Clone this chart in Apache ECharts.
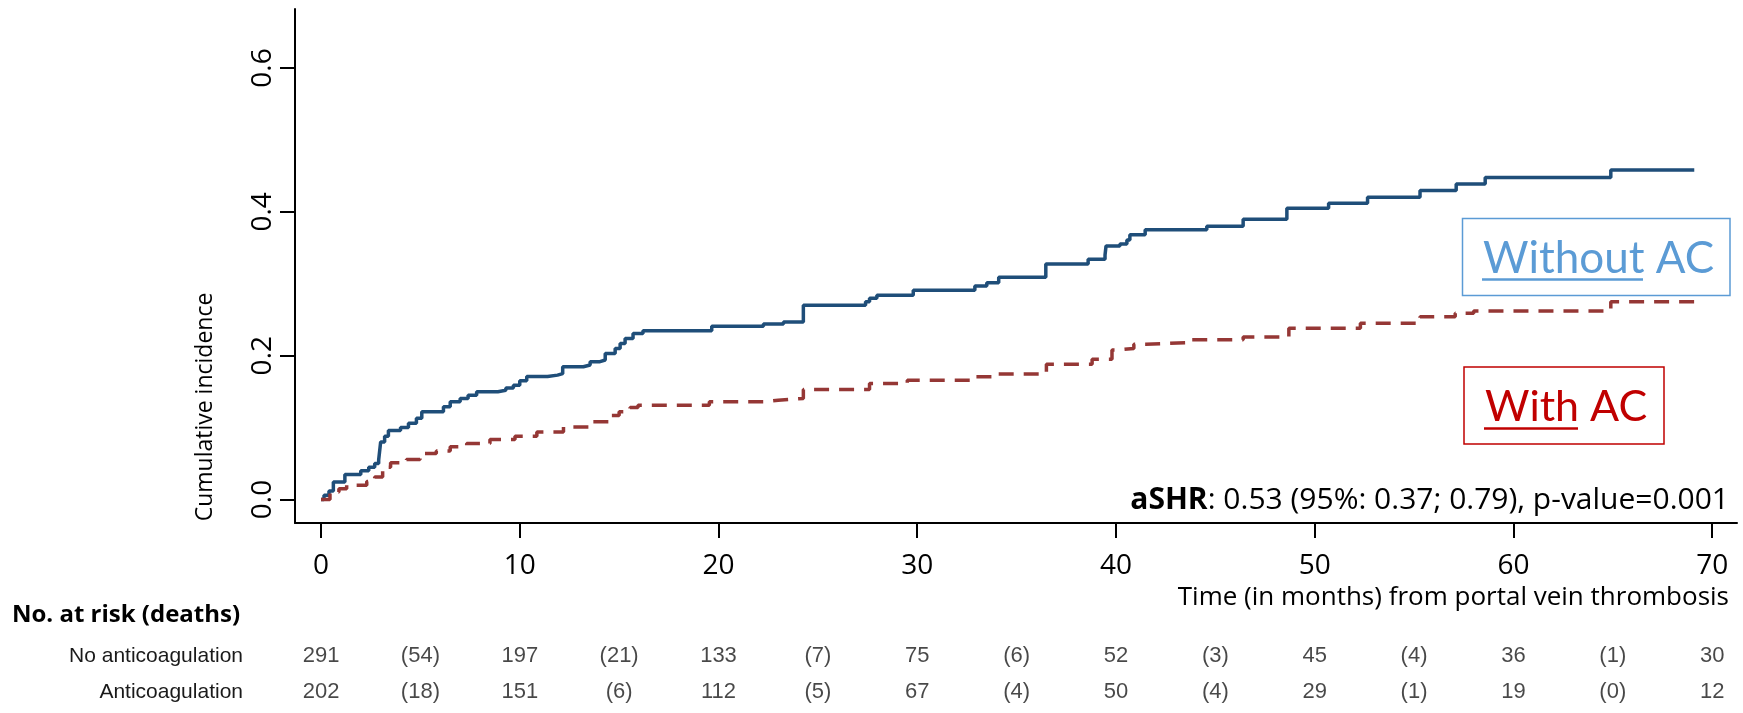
<!DOCTYPE html>
<html>
<head>
<meta charset="utf-8">
<script src="https://cdn.jsdelivr.net/npm/echarts@6/dist/echarts.min.js"></script>
<style>html,body{margin:0;padding:0;background:#fff;}#c{width:1743px;height:713px;}</style>
</head>
<body>
<div id="c"></div>
<script>
// ---- Data ----
const withoutAC = [
  [0,0],[0.15,0.006],[0.4,0.012],[0.62,0.0245],[1.2,0.035],[2.0,0.04],[2.4,0.045],[2.7,0.05],
  [2.9,0.055],[3.0,0.08],[3.2,0.088],[3.39,0.096],[4.0,0.1],[4.4,0.106],[4.8,0.113],[5.07,0.122],
  [6.16,0.129],[6.5,0.136],[7.0,0.1405],[7.4,0.145],[7.83,0.150],[8.9,0.152],[9.3,0.155],[9.68,0.159],
  [10.0,0.165],[10.35,0.171],[11.4,0.173],[11.9,0.175],[12.16,0.1846],[13.2,0.187],[13.54,0.1915],
  [14.0,0.194],[14.3,0.203],[14.8,0.21],[15.05,0.217],[15.3,0.224],[15.7,0.231],[16.2,0.2347],
  [19.66,0.241],[22.26,0.244],[23.27,0.247],[24.27,0.270],[27.4,0.275],[27.6,0.2797],[27.97,0.284],
  [29.8,0.291],[32.9,0.297],[33.5,0.3015],[34.1,0.309],[36.47,0.3275],[38.6,0.334],[39.45,0.340],
  [39.5,0.3525],[40.2,0.3553],[40.55,0.361],[40.7,0.368],[41.47,0.375],[44.57,0.380],[46.4,0.3897],
  [48.6,0.405],[50.7,0.412],[52.66,0.4203],[55.3,0.4295],[57.12,0.4388],[58.58,0.4476],[64.9,0.4583],
  [69.1,0.4583]
];
const withAC = [
  [0,0],[0.45,0.0106],[0.9,0.015],[1.29,0.02],[2.3,0.025],[2.7,0.0315],[3.1,0.045],[3.5,0.051],
  [4.3,0.0557],[4.98,0.064],[5.8,0.0675],[6.5,0.0733],[7.33,0.078],[8.5,0.0835],[9.76,0.088],
  [10.86,0.094],[12.2,0.101],[13.5,0.108],[14.46,0.117],[15.0,0.122],[15.55,0.128],[15.95,0.131],
  [19.54,0.136],[22.3,0.138],[23.0,0.1405],[24.27,0.153],[27.6,0.1614],[29.5,0.166],[32.75,0.1706],
  [33.8,0.1744],[36.5,0.188],[38.8,0.195],[39.8,0.208],[40.1,0.21],[40.9,0.216],[41.5,0.218],
  [43.6,0.222],[46.4,0.226],[48.7,0.238],[52.3,0.245],[55.3,0.254],[57.07,0.259],[58.0,0.262],
  [64.9,0.275],[69.1,0.275]
];
const xTicks = [0,10,20,30,40,50,60,70];
const yTicks = [0,0.2,0.4,0.6];
const riskTimes = [0,10,20,30,40,50,60,70];
const riskNoAC = [291,197,133,75,52,45,36,30];
const riskAC = [202,151,112,67,50,29,19,12];
const deathsNoAC = [54,21,7,6,3,4,1];
const deathsAC = [18,6,5,4,4,1,0];
const rowNames = ['No anticoagulation','Anticoagulation'];

// ---- Build risk-table items ----
function tableItems(risk, deaths, row) {
  const out = [];
  risk.forEach((n, i) => {
    out.push({ name: String(n), value: [riskTimes[i], row] });
  });
  deaths.forEach((d, i) => {
    out.push({ name: '(' + d + ')', value: [(riskTimes[i] + riskTimes[i + 1]) / 2, row] });
  });
  return out;
}
const tableData = tableItems(riskNoAC, deathsNoAC, 0).concat(tableItems(riskAC, deathsAC, 1));

const XMIN = -1.31, XMAX = 71.25;
const FONT = '"Open Sans"';
const LEG = 'Lato';
const TABLE = '"Liberation Sans",Arial,sans-serif';

const chart = echarts.init(document.getElementById('c'), null, { renderer: 'canvas' });
chart.setOption({
  animation: false,
  backgroundColor: '#fff',
  grid: [
    { left: 295, top: 9, right: 6, bottom: 190 },
    { left: 295, top: 638, right: 6, height: 72 }
  ],
  xAxis: [
    {
      type: 'value', min: XMIN, max: XMAX, gridIndex: 0,
      axisLine: { show: true, onZero: false, lineStyle: { color: '#000', width: 2 } },
      axisTick: { show: true, customValues: xTicks, length: 15, lineStyle: { color: '#000', width: 2 } },
      axisLabel: { customValues: xTicks, fontFamily: FONT, fontSize: 28, color: '#000', margin: 29 },
      splitLine: { show: false }
    },
    {
      type: 'value', min: XMIN, max: XMAX, gridIndex: 1, show: false
    }
  ],
  yAxis: [
    {
      type: 'value', min: -0.0326, max: 0.682, gridIndex: 0,
      axisLine: { show: true, onZero: false, lineStyle: { color: '#000', width: 2 } },
      axisTick: { show: true, customValues: yTicks, length: 15, lineStyle: { color: '#000', width: 2 } },
      axisLabel: { customValues: yTicks, rotate: 90, fontFamily: FONT, fontSize: 28, color: '#000', margin: 18,
        formatter: v => v.toFixed(1) },
      splitLine: { show: false }
    },
    {
      type: 'category', data: rowNames, inverse: true, gridIndex: 1,
      axisLine: { show: false }, axisTick: { show: false }, splitLine: { show: false },
      axisLabel: { fontFamily: TABLE, fontSize: 21, color: '#1a1a1a', margin: 52, align: 'right' }
    }
  ],
  series: [
    {
      name: 'Without AC', type: 'line', step: 'end', data: withoutAC, xAxisIndex: 0, yAxisIndex: 0,
      showSymbol: false, symbol: 'none',
      lineStyle: { color: '#1F4E79', width: 3.5 }
    },
    {
      name: 'With AC', type: 'line', step: 'end', data: withAC, xAxisIndex: 0, yAxisIndex: 0,
      showSymbol: false, symbol: 'none',
      lineStyle: { color: '#953735', width: 3.5, type: [15, 10] }
    },
    {
      type: 'scatter', xAxisIndex: 1, yAxisIndex: 1, data: tableData,
      symbolSize: 1, itemStyle: { color: 'rgba(0,0,0,0)' }, silent: true,
      label: { show: true, position: 'inside', formatter: '{b}', fontFamily: TABLE, fontSize: 22, color: '#1a1a1a' }
    }
  ],
  graphic: [
    { type: 'text', x: 205, y: 407, rotation: Math.PI / 2,
      style: { text: 'Cumulative incidence', font: '23px ' + FONT, fill: '#000', textAlign: 'center', textVerticalAlign: 'middle' } },
    { type: 'text', x: 1729, y: 598,
      style: { text: 'Time (in months) from portal vein thrombosis', font: '26px ' + FONT, fill: '#000', textAlign: 'right', textVerticalAlign: 'middle' } },
    { type: 'text', x: 1729, y: 500,
      style: { text: '{b|aSHR}: 0.53 (95%: 0.37; 0.79), p-value=0.001',
        rich: { b: { fontWeight: 'bold', fontFamily: FONT, fontSize: 30, fill: '#000' } },
        fontFamily: FONT, fontSize: 30, fill: '#000', align: 'right', verticalAlign: 'middle' } },
    { type: 'text', x: 12, y: 615,
      style: { text: 'No. at risk (deaths)', font: 'bold 24px ' + FONT, fill: '#000', textAlign: 'left', textVerticalAlign: 'middle' } },
    // legend boxes
    { type: 'rect', shape: { x: 1462.5, y: 218.5, width: 267.5, height: 77 },
      style: { fill: 'none', stroke: '#5B9BD5', lineWidth: 1.5 } },
    { type: 'text', x: 1483, y: 259,
      style: { text: 'Without AC', font: '44px ' + LEG, fill: '#5B9BD5', textAlign: 'left', textVerticalAlign: 'middle' } },
    { type: 'line', shape: { x1: 1482, y1: 279.5, x2: 1643, y2: 279.5 }, style: { stroke: '#5B9BD5', lineWidth: 2.5 } },
    { type: 'rect', shape: { x: 1464, y: 367, width: 200, height: 77 },
      style: { fill: 'none', stroke: '#C00000', lineWidth: 1.5 } },
    { type: 'text', x: 1485, y: 407,
      style: { text: 'With AC', font: '43px ' + LEG, fill: '#C00000', textAlign: 'left', textVerticalAlign: 'middle' } },
    { type: 'line', shape: { x1: 1484, y1: 428.5, x2: 1578, y2: 428.5 }, style: { stroke: '#C00000', lineWidth: 2.5 } }
  ]
});
</script>
</body>
</html>
